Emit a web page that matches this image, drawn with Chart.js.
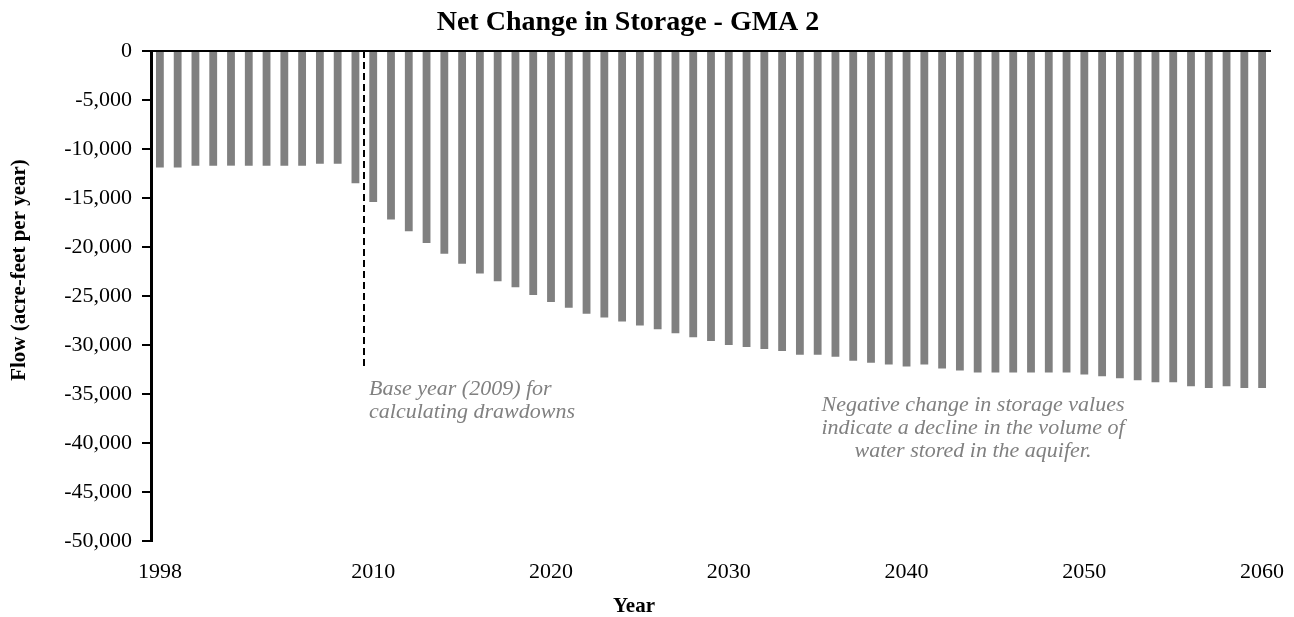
<!DOCTYPE html>
<html lang="en">

<head>
    <meta charset="UTF-8">
    <title>Net Change in Storage - GMA 2</title>
    <style>
        body { margin: 0; background: #fff; }
    </style>
</head>

<body>
    <canvas id="myChart" width="1294" height="617"></canvas>

    <script src="https://cdn.jsdelivr.net/npm/chart.js"></script>
    <script>
        // categories (years)
        const v_years = [
            1998, 1999, 2000, 2001, 2002, 2003, 2004, 2005, 2006, 2007,
            2008, 2009, 2010, 2011, 2012, 2013, 2014, 2015, 2016, 2017,
            2018, 2019, 2020, 2021, 2022, 2023, 2024, 2025, 2026, 2027,
            2028, 2029, 2030, 2031, 2032, 2033, 2034, 2035, 2036, 2037,
            2038, 2039, 2040, 2041, 2042, 2043, 2044, 2045, 2046, 2047,
            2048, 2049, 2050, 2051, 2052, 2053, 2054, 2055, 2056, 2057,
            2058, 2059, 2060
        ];
        // net change in storage, acre-feet per year
        const v_storage = [
            -11900, -11900, -11700, -11700, -11700, -11700, -11700, -11700, -11700, -11500,
            -11500, -13500, -15400, -17200, -18400, -19600, -20700, -21700, -22700, -23500,
            -24100, -24900, -25600, -26200, -26800, -27200, -27600, -28000, -28400, -28800,
            -29200, -29600, -30000, -30200, -30400, -30600, -31000, -31000, -31200, -31600,
            -31800, -32000, -32200, -32000, -32400, -32600, -32800, -32800, -32800, -32800,
            -32800, -32800, -33000, -33200, -33400, -33600, -33800, -33800, -34200, -34400,
            -34200, -34400, -34400
        ];
        // years that get a label on the x axis
        const v_xTickYears = [1998, 2010, 2020, 2030, 2040, 2050, 2060];
        // y axis range
        const v_yMin = -50000;
        const v_yMax = 0;
        const v_yStep = 5000;
        // base year marker: dashed line after this year, down to this value
        const v_baseYear = 2009;
        const v_baseLineEnd = -32300;

        const v_baseNote = ['Base year (2009) for', 'calculating drawdowns'];
        const v_negNote = ['Negative change in storage values',
            'indicate a decline in the volume of',
            'water stored in the aquifer.'];

        const SERIF = "'Liberation Serif', 'Times New Roman', serif";
        Chart.defaults.font.family = SERIF;
        Chart.defaults.color = '#000';

        // titles, base year line and notes
        const textPlugin = {
            id: 'textPlugin',
            afterDatasetsDraw(chart) {
                const c = chart.ctx;
                const x = chart.scales.x;
                const y = chart.scales.y;

                // dashed line between base year and next year
                const i = v_years.indexOf(v_baseYear);
                const lx = Math.round((x.getPixelForValue(i) + x.getPixelForValue(i + 1)) / 2);
                c.save();
                c.strokeStyle = '#000';
                c.lineWidth = 2;
                c.setLineDash([7, 4]);
                c.beginPath();
                c.moveTo(lx, y.getPixelForValue(0));
                c.lineTo(lx, y.getPixelForValue(v_baseLineEnd));
                c.stroke();
                c.restore();

                c.save();
                c.fillStyle = '#000';
                c.textBaseline = 'alphabetic';

                // chart title
                c.font = 'bold 28px ' + SERIF;
                c.textAlign = 'center';
                c.fillText('Net Change in Storage - GMA 2', 628, 30);

                // x axis title
                c.font = 'bold 21px ' + SERIF;
                c.fillText('Year', 634, 612);

                // y axis title
                c.save();
                c.translate(25, 270);
                c.rotate(-Math.PI / 2);
                c.fillText('Flow (acre-feet per year)', 0, 0);
                c.restore();

                // notes
                c.fillStyle = '#808080';
                c.font = 'italic 22px ' + SERIF;
                c.textAlign = 'left';
                for (let k = 0; k < v_baseNote.length; k++) {
                    c.fillText(v_baseNote[k], lx + 5, 395 + k * 23);
                }
                c.textAlign = 'center';
                for (let k = 0; k < v_negNote.length; k++) {
                    c.fillText(v_negNote[k], 973, 411 + k * 23);
                }
                c.restore();
            }
        };

        const ctx = document.getElementById('myChart');
        new Chart(ctx, {
            type: 'bar',
            data: {
                labels: v_years,
                datasets: [{
                    label: 'Net Change in Storage',
                    data: v_storage,
                    backgroundColor: '#808080',
                    borderWidth: 0,
                    barPercentage: 0.44,
                    categoryPercentage: 1
                }]
            },
            options: {
                responsive: false,
                animation: false,
                devicePixelRatio: 1,
                layout: {
                    padding: { left: 0, right: 23, top: 51, bottom: 0 }
                },
                plugins: {
                    legend: { display: false },
                    title: { display: false },
                    tooltip: { enabled: false }
                },
                scales: {
                    x: {
                        grid: { display: false, drawTicks: true, tickLength: 15 },
                        border: { display: false },
                        ticks: {
                            autoSkip: false,
                            maxRotation: 0,
                            minRotation: 0,
                            padding: 3,
                            font: { size: 22 },
                            color: '#000',
                            callback: function (val, idx) {
                                const yr = v_years[idx];
                                return v_xTickYears.indexOf(yr) != -1 ? String(yr) : '';
                            }
                        },
                        afterFit: function (scale) { scale.height = 76; }
                    },
                    y: {
                        min: v_yMin,
                        max: v_yMax,
                        border: { display: true, color: '#000', width: 3 },
                        grid: {
                            color: function (c) { return c.tick && c.tick.value === 0 ? '#000' : 'rgba(0,0,0,0)'; },
                            lineWidth: 2,
                            tickColor: '#000',
                            tickLength: 9,
                            tickWidth: 2
                        },
                        ticks: {
                            stepSize: v_yStep,
                            padding: 10,
                            font: { size: 22 },
                            color: '#000',
                            callback: function (v) { return v.toLocaleString('en-US'); }
                        },
                        afterFit: function (scale) { scale.width = 151; }
                    }
                }
            },
            plugins: [textPlugin]
        });
    </script>
</body>

</html>
